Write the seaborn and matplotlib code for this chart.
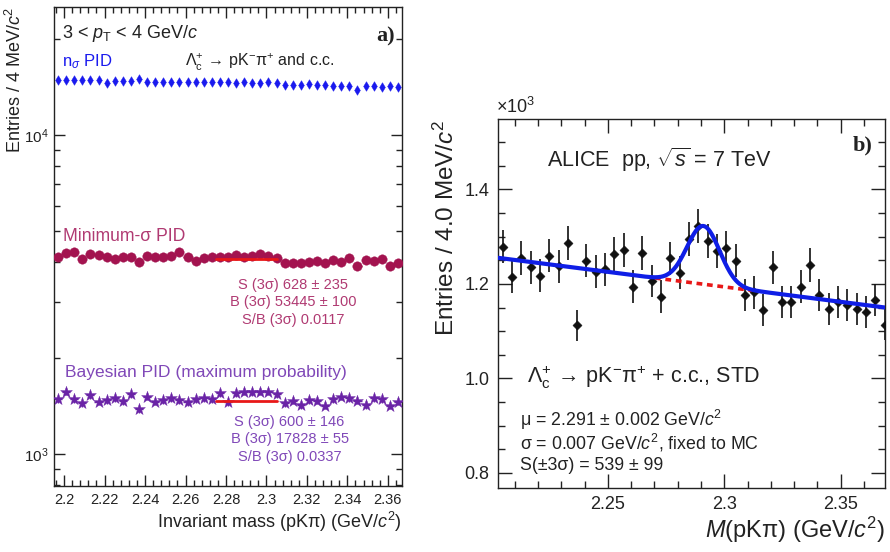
import numpy as np
import pandas as pd
import matplotlib
matplotlib.use("Agg")
import matplotlib.pyplot as plt
from matplotlib.ticker import MultipleLocator, LogLocator, NullFormatter, FuncFormatter
import seaborn as sns

# ---------------- panel a) : 3 < pT < 4 GeV/c, three PID strategies ----------------
BIN_A = 0.004                      # GeV/c^2
MASS_A0 = 2.197                    # centre of first bin
N_A = 43
mass_a = MASS_A0 + BIN_A * np.arange(N_A)

nsigma_counts = [14870, 14870, 14900, 14870, 14870, 14870, 14520, 14800, 14800, 14800,
                 14940, 14660, 14660, 14660, 14660, 14700, 14660, 14660, 14700, 14660,
                 14700, 14660, 14590, 14660, 14590, 14590, 14660, 14590, 14350, 14350,
                 14350, 14420, 14350, 14350, 14280, 14240, 14240, 13800, 14240, 14200,
                 14170, 14200, 14110]

minsigma_counts = [4156, 4257, 4309, 4077, 4226, 4206, 4156, 4077, 4136, 4156,
                   4009, 4176, 4156, 4136, 4176, 4288, 4156, 4038, 4107, 4136,
                   4136, 4156, 4206, 4156, 4176, 4226, 4176, 4107, 3980, 3961,
                   3980, 4009, 4019, 3980, 4058, 4009, 4107, 3885, 4058, 4019,
                   4077, 3894, 3980]

bayes_counts = [1487, 1568, 1483, 1441, 1531, 1459, 1476, 1494, 1466, 1538,
                1380, 1512, 1459, 1476, 1494, 1476, 1452, 1487, 1494, 1483,
                1549, 1452, 1549, 1568, 1561, 1568, 1568, 1538, 1441, 1470,
                1424, 1476, 1470, 1418, 1483, 1512, 1494, 1470, 1424, 1494,
                1487, 1418, 1459]

# fitted background level inside the +-3 sigma window
fit_window_a = [2.275, 2.305]
minsigma_fit_level = 4077
bayes_fit_level = 1470

minsigma_stats = ["S (3\u03c3) 628 \u00b1 235", "B (3\u03c3) 53445 \u00b1 100", "S/B (3\u03c3) 0.0117"]
bayes_stats = ["S (3\u03c3) 600 \u00b1 146", "B (3\u03c3) 17828 \u00b1 55", "S/B (3\u03c3) 0.0337"]

# ---------------- panel b) : ALICE pp 7 TeV, STD selection ----------------
BIN_B = 0.004
MASS_B0 = 2.2048
N_B = 42
mass_b = MASS_B0 + BIN_B * np.arange(N_B)

std_counts = [1279, 1215, 1255, 1235, 1217, 1260, 1237, 1286, 1112, 1249,
              1226, 1231, 1263, 1272, 1194, 1265, 1206, 1173, 1254, 1224,
              1295, 1322, 1291, 1270, 1277, 1249, 1176, 1182, 1145, 1235,
              1162, 1162, 1194, 1240, 1176, 1146, 1162, 1155, 1146, 1141,
              1166, 1114]

# fit: linear background + gaussian signal
bkg_ref_mass = 2.29
bkg_ref_level = 1200.0          # counts per bin at bkg_ref_mass
bkg_slope = -633.0              # counts per bin per GeV/c^2
mu_fit = 2.291
sigma_fit = 0.007
signal_3sigma = 539

# ---------------- style ----------------
sns.set_theme(style="ticks")
plt.rcParams.update({
    "font.family": ["Liberation Sans", "DejaVu Sans"],
    "mathtext.fontset": "custom",
    "mathtext.rm": "Liberation Sans",
    "mathtext.it": "Liberation Sans:italic",
    "mathtext.bf": "Liberation Sans:bold",
    "mathtext.sf": "Liberation Sans",
    "xtick.direction": "in",
    "ytick.direction": "in",
    "xtick.top": True,
    "ytick.right": True,
    "axes.linewidth": 1.0,
    "axes.edgecolor": "#222222",
    "xtick.color": "#222222",
    "ytick.color": "#222222",
    "text.color": "#222222",
    "axes.labelcolor": "#222222",
    "axes.facecolor": "white",
    "figure.facecolor": "white",
})

C_NS = "#1a1aee"
C_MIN = "#a3134f"
C_MIN_TXT = "#b03a72"
C_BAY = "#6a23a6"
C_BAY_TXT = "#8048b8"
C_RED = "#e81818"
C_FIT = "#0f1ee6"

DECAY = r"$\Lambda_{\rm c}^{+}\,\rightarrow\,{\rm pK}^{-}\mathrm{\pi}^{+}$"

fig = plt.figure(figsize=(8.9, 5.52), dpi=100)
axa = fig.add_axes([54 / 890, 1 - 486 / 552, 348 / 890, 479 / 552])
axb = fig.add_axes([498 / 890, 1 - 488 / 552, 387 / 890, 369 / 552])

# ---------------- panel a) drawing ----------------
df_a = pd.DataFrame({"mass": mass_a, "nsigma": nsigma_counts,
                     "minsigma": minsigma_counts, "bayes": bayes_counts})

axa.set_yscale("log")
axa.errorbar(df_a["mass"], df_a["minsigma"], xerr=BIN_A / 2, yerr=np.sqrt(df_a["minsigma"]),
             fmt="none", ecolor=C_MIN, elinewidth=1.0, zorder=2)
axa.errorbar(df_a["mass"], df_a["bayes"], xerr=BIN_A / 2, yerr=np.sqrt(df_a["bayes"]),
             fmt="none", ecolor=C_BAY, elinewidth=1.0, zorder=2)

sns.scatterplot(data=df_a, x="mass", y="nsigma", ax=axa, marker="d", s=24,
                color=C_NS, edgecolor=C_NS, linewidth=0.3, zorder=3, legend=False)
sns.scatterplot(data=df_a, x="mass", y="minsigma", ax=axa, marker="o", s=46,
                color=C_MIN, edgecolor=C_MIN, linewidth=0.3, zorder=3, legend=False)
sns.scatterplot(data=df_a, x="mass", y="bayes", ax=axa, marker="*", s=80,
                color=C_BAY, edgecolor=C_BAY, linewidth=0.3, zorder=3, legend=False)

fit_a = pd.DataFrame({"mass": fit_window_a * 2,
                      "level": [minsigma_fit_level] * 2 + [bayes_fit_level] * 2,
                      "set": ["min", "min", "bay", "bay"]})
sns.lineplot(data=fit_a, x="mass", y="level", units="set", estimator=None, ax=axa,
             color=C_RED, linewidth=2.0, zorder=4, legend=False)

axa.set_xlim(2.195, 2.367)
axa.set_ylim(794, 25200)
axa.xaxis.set_major_locator(MultipleLocator(0.02))
axa.xaxis.set_minor_locator(MultipleLocator(0.004))
axa.xaxis.set_major_formatter(FuncFormatter(lambda v, p: f"{v:g}"))
axa.yaxis.set_major_locator(LogLocator(base=10, numticks=10))
axa.yaxis.set_minor_locator(LogLocator(base=10, subs=np.arange(2, 10), numticks=20))
axa.yaxis.set_minor_formatter(NullFormatter())
axa.tick_params(which="major", length=8, width=1.0, labelsize=10.5, pad=5)
axa.tick_params(axis="y", which="major", labelsize=11, pad=4)
axa.tick_params(which="minor", length=4, width=1.0)

axa.set_xlabel(r"Invariant mass (pK$\mathrm{\pi}$) (GeV/$c^2$)", fontsize=13, loc="right")
axa.xaxis.set_label_coords(1.0, -0.05)
axa.set_ylabel(r"Entries / 4 MeV/$c^2$", fontsize=13, loc="top")
axa.yaxis.set_label_coords(-0.083, 1.0)

axa.text(0.023, 0.945, r"3 < $p_{\rm T}$ < 4 GeV/$c$", transform=axa.transAxes,
         fontsize=13, ha="left", va="center")
axa.text(0.98, 0.939, "a)", transform=axa.transAxes, fontsize=16, fontweight="bold",
         family="Liberation Serif", ha="right", va="center")
axa.text(0.023, 0.885, r"n$_{\sigma}$ PID", transform=axa.transAxes, fontsize=12,
         color=C_NS, ha="left", va="center")
axa.text(0.376, 0.885, DECAY + " and c.c.",
         transform=axa.transAxes, fontsize=11.5, ha="left", va="center")
axa.text(0.026, 0.52, "Minimum-\u03c3 PID", transform=axa.transAxes, fontsize=12.7,
         color=C_MIN_TXT, ha="left", va="center")
for i, line in enumerate(minsigma_stats):
    axa.text(0.687, 0.4196 - 0.0365 * i, line, transform=axa.transAxes, fontsize=10.5,
             color=C_MIN_TXT, ha="center", va="center")
axa.text(0.032, 0.2365, "Bayesian PID (maximum probability)", transform=axa.transAxes,
         fontsize=12.5, color=C_BAY_TXT, ha="left", va="center")
for i, line in enumerate(bayes_stats):
    axa.text(0.677, 0.134 - 0.0365 * i, line, transform=axa.transAxes, fontsize=10.5,
             color=C_BAY_TXT, ha="center", va="center")

# ---------------- panel b) drawing ----------------
df_b = pd.DataFrame({"mass": mass_b, "entries": std_counts})

axb.errorbar(df_b["mass"], df_b["entries"], yerr=np.sqrt(df_b["entries"]),
             fmt="none", ecolor="#111111", elinewidth=1.2, zorder=2)
sns.scatterplot(data=df_b, x="mass", y="entries", ax=axb, marker="D", s=22,
                color="#111111", edgecolor="#111111", linewidth=0.3, zorder=3, legend=False)

gauss_amp = signal_3sigma * BIN_B / (sigma_fit * np.sqrt(2 * np.pi) * 0.9973)
m_grid = np.linspace(2.2028, 2.369, 600)
bkg = bkg_ref_level + bkg_slope * (m_grid - bkg_ref_mass)
total = bkg + gauss_amp * np.exp(-0.5 * ((m_grid - mu_fit) / sigma_fit) ** 2)
win = (m_grid >= mu_fit - 3 * sigma_fit) & (m_grid <= mu_fit + 3 * sigma_fit)

sns.lineplot(x=m_grid[win], y=bkg[win], ax=axb, color=C_RED, linewidth=2.6,
             linestyle=(0, (1.6, 1.3)), zorder=4)
sns.lineplot(x=m_grid, y=total, ax=axb, color=C_FIT, linewidth=3.0, zorder=5)

axb.set_xlim(2.2028, 2.369)
axb.set_ylim(768, 1549)
axb.xaxis.set_major_locator(MultipleLocator(0.05))
axb.xaxis.set_minor_locator(MultipleLocator(0.01))
axb.xaxis.set_major_formatter(FuncFormatter(lambda v, p: f"{v:g}"))
axb.yaxis.set_major_locator(MultipleLocator(200))
axb.yaxis.set_minor_locator(MultipleLocator(50))
axb.yaxis.set_major_formatter(FuncFormatter(lambda v, p: f"{v / 1000:.1f}"))
axb.tick_params(which="major", length=10, width=1.0, labelsize=13, pad=6)
axb.tick_params(which="minor", length=5, width=1.0)

axb.set_xlabel(r"$M$(pK$\mathrm{\pi}$) (GeV/$c^2$)", fontsize=17, loc="right")
axb.xaxis.set_label_coords(1.0, -0.072)
axb.set_ylabel(r"Entries / 4.0 MeV/$c^2$", fontsize=17.5, loc="top")
axb.yaxis.set_label_coords(-0.1, 1.0)

axb.text(-0.005, 1.005, r"$\times$10$^{3}$", transform=axb.transAxes, fontsize=13,
         ha="left", va="bottom")
axb.text(0.127, 0.889, r"ALICE  pp, $\sqrt{s}$ = 7 TeV", transform=axb.transAxes,
         fontsize=15.5, ha="left", va="center")
axb.text(0.969, 0.927, "b)", transform=axb.transAxes, fontsize=16, fontweight="bold",
         family="Liberation Serif", ha="right", va="center")
axb.text(0.075, 0.30, DECAY + " + c.c., STD",
         transform=axb.transAxes, fontsize=15.5, ha="left", va="center")
axb.text(0.057, 0.184, "\u03bc = 2.291 \u00b1 0.002 GeV/$c^2$", transform=axb.transAxes,
         fontsize=12.8, ha="left", va="center")
axb.text(0.057, 0.122, "\u03c3 = 0.007 GeV/$c^2$, fixed to MC", transform=axb.transAxes,
         fontsize=12.8, ha="left", va="center")
axb.text(0.057, 0.06, f"S(\u00b13\u03c3) = {signal_3sigma} \u00b1 99", transform=axb.transAxes,
         fontsize=12.8, ha="left", va="center")

fig.savefig("out.png", dpi=100)
